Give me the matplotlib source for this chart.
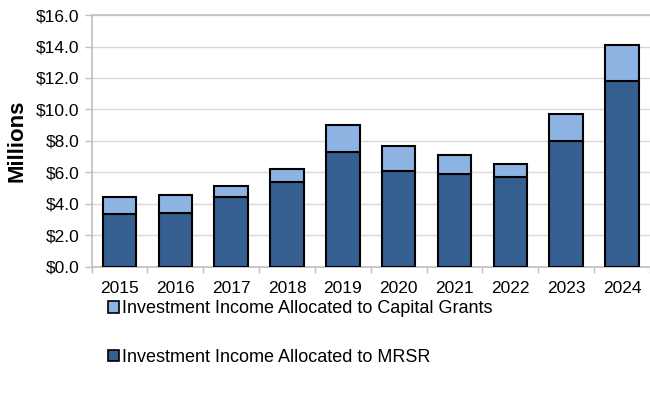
import matplotlib
matplotlib.use("Agg")
import matplotlib.pyplot as plt
from matplotlib.patches import Patch
from matplotlib.ticker import FuncFormatter, MultipleLocator

years = ["2015", "2016", "2017", "2018", "2019", "2020", "2021", "2022", "2023", "2024"]
mrsr = [3.33, 3.43, 4.45, 5.40, 7.31, 6.06, 5.89, 5.70, 7.97, 11.81]
capital_grants = [1.12, 1.13, 0.68, 0.79, 1.70, 1.63, 1.23, 0.85, 1.72, 2.28]

dark_blue = "#365F91"
light_blue = "#8DB3E2"

plt.rcParams["font.family"] = ["Liberation Sans", "DejaVu Sans"]

fig = plt.figure(figsize=(6.5, 3.96), dpi=100)
ax = fig.add_axes([0.141, 0.3265, 0.859, 0.6355])

x = range(len(years))
ax.bar(x, mrsr, width=0.6, color=dark_blue, edgecolor="black", linewidth=1.5, zorder=3)
ax.bar(x, capital_grants, bottom=mrsr, width=0.6, color=light_blue,
       edgecolor="black", linewidth=1.5, zorder=3)

ax.set_xlim(-0.5, len(years) - 0.5)
ax.set_ylim(0, 16)
ax.yaxis.set_major_locator(MultipleLocator(2))
ax.yaxis.set_major_formatter(FuncFormatter(lambda v, _: f"${v:.1f}"))
ax.grid(axis="y", color="#d9d9d9", linewidth=1, zorder=0)

ax.set_xticks(list(x))
ax.set_xticklabels(years)
ax.set_xticks([i + 0.5 for i in range(-1, len(years))], minor=True)
ax.tick_params(axis="x", which="major", length=0, pad=10, labelsize=12.5)
ax.tick_params(axis="x", which="minor", length=4, color="#bfbfbf", width=1)
ax.tick_params(axis="y", length=5, color="#bfbfbf", width=1, labelsize=12.5, pad=4)

ax.spines["right"].set_visible(False)
for side in ("left", "bottom", "top"):
    ax.spines[side].set_color("#bfbfbf")
    ax.spines[side].set_linewidth(1.2)

ax.set_ylabel("Millions", fontsize=16, fontweight="bold", labelpad=6)

handles = [
    Patch(facecolor=light_blue, edgecolor="black", linewidth=1.2,
          label="Investment Income Allocated to Capital Grants"),
    Patch(facecolor=dark_blue, edgecolor="black", linewidth=1.2,
          label="Investment Income Allocated to MRSR"),
]
fig.legend(handles=handles, loc="upper left", bbox_to_anchor=(0.155, 0.26),
           frameon=False, fontsize=13, handlelength=0.6, handleheight=0.6,
           handletextpad=0.15, labelspacing=1.75, borderaxespad=0)

fig.savefig("out.png", dpi=100)
